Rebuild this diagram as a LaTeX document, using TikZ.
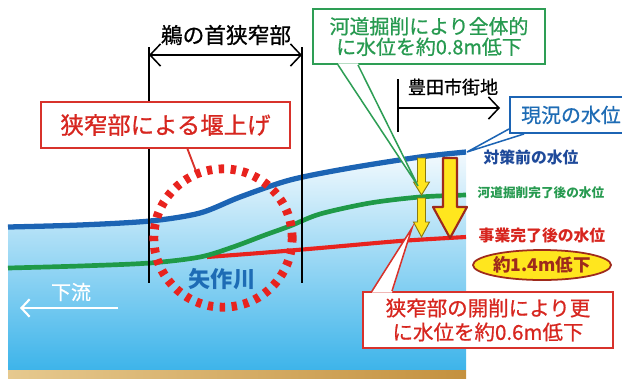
\documentclass[tikz,border=0pt]{standalone}
\usepackage{fontspec}
\setmainfont{Noto Sans CJK JP}
\newfontfamily\medium{Noto Sans CJK JP}[FakeBold=0.8]
\usetikzlibrary{arrows.meta,shapes.geometric}

\definecolor{levelblue}{HTML}{1C64B4}
\definecolor{levelgreen}{HTML}{1F9A48}
\definecolor{levelred}{HTML}{E8231E}
\definecolor{framered}{HTML}{D8322B}
\definecolor{textred}{HTML}{D7261F}
\definecolor{framegreen}{HTML}{2E9E55}
\definecolor{textgreen}{HTML}{279A50}
\definecolor{labelblue}{HTML}{1E6CB5}
\definecolor{darkblue}{HTML}{1F4A9A}
\definecolor{waterpale}{HTML}{F4FAFE}
\definecolor{watermid}{HTML}{D8EFFA}
\definecolor{waterdeep}{HTML}{3DB4EA}
\definecolor{sandlight}{HTML}{E6C98F}
\definecolor{sanddark}{HTML}{C4913F}
\definecolor{arrowyellow}{HTML}{FFE61E}
\definecolor{arrowedge}{HTML}{8A7A10}
\definecolor{bigedge}{HTML}{9E2A1C}

\tikzset{
  callout/.style={draw, line width=1.6pt, fill=white, inner sep=0pt, align=center},
  dimline/.style={line width=1.3pt},
  barb/.tip={Straight Barb[length=9pt,width=19pt,line width=1.3pt]},
  level/.style={line width=4pt},
  sidelabel/.style={font=\bfseries\fontsize{13.5}{14}\selectfont},
}

\begin{document}
\begin{tikzpicture}[x=0.03cm, y=-0.03cm]
    \useasboundingbox (0,0) rectangle (622,378);
    \clip (0,0) rectangle (622,378);
    % water and river bed
    \shade[top color=waterpale, middle color=watermid, bottom color=waterdeep]
        plot[smooth] coordinates {(8,227) (80,225) (150,221) (200,213) (240,197) (290,180) (350,168) (420,157) (466,152)}
        -- (466,370) -- (8,370) -- cycle;
    \shade[left color=sandlight, right color=sanddark] (8,370) rectangle (466,378);
    % water levels
    \draw[level, levelred, line width=3.5pt] plot[smooth] coordinates {(207,257) (260,253) (320,248) (400,241) (466,237)};
    \draw[level, levelgreen] plot[smooth] coordinates {(8,268) (80,266) (150,263) (200,257) (233,247) (265,235) (290,226) (320,214) (370,203) (420,197) (466,195)};
    \draw[level, levelblue, line width=4.5pt] plot[smooth] coordinates {(8,227) (80,225) (150,221) (200,213) (240,197) (290,180) (350,168) (420,157) (466,152)};

    % bottleneck section
    \node[font=\medium\fontsize{18.5}{19}\selectfont] (neck) at (226,35) {鵜の首狭窄部};
    \coordinate (neckL) at (149,47);
    \coordinate (neckLb) at (149,283);
    \coordinate (neckR) at (302,47);
    \coordinate (neckRb) at (302,283);
    \coordinate (neckA) at (149,55);
    \coordinate (neckB) at (302,55);
    \draw[line width=1.2pt] (neckL) -- (neckLb);
    \draw[line width=1.2pt] (neckR) -- (neckRb);
    \draw[dimline, barb-barb] (neckA) -- (neckB);

    \node[draw=levelred, circle, line width=7.5pt, dash pattern=on 4.6pt off 5.6pt,
          minimum size=4.15cm, inner sep=0pt] (bottle) at (223,238) {};
    \node[text=labelblue, font=\bfseries\fontsize{19}{19}\selectfont] (river) at (222,279) {矢作川};

    \node[callout, draw=framered, text=textred, minimum width=7.47cm, minimum height=1.38cm,
          font=\medium\fontsize{20}{20}\selectfont] (weir) at (165.5,125) {狭窄部による堰上げ};
    \draw[framered, line width=1.6pt] ([xshift=0.66cm]weir.south) -- (bottle.112);

    % downstream
    \node[text=white, font=\medium\fontsize{17}{17}\selectfont] (down) at (71,292) {下流};
    \coordinate (downA) at (118,308);
    \coordinate (downB) at (20,308);
    \draw[white, line width=1.8pt, -{Straight Barb[length=7pt,width=15pt,line width=1.8pt]}] (downA) -- (downB);

    % city section
    \node[font=\medium\fontsize{15.4}{16}\selectfont] (city) at (453,87) {豊田市街地};
    \coordinate (cityT) at (398,79);
    \coordinate (cityTb) at (398,132);
    \coordinate (cityA) at (398,108);
    \coordinate (cityB) at (500,108);
    \draw[line width=1.2pt] (cityT) -- (cityTb);
    \draw[dimline, -barb] (cityA) -- (cityB);

    % drop arrows
    \filldraw[fill=arrowyellow, draw=arrowedge, line width=0.8pt]
        (417.5,158) -- (425.5,158) -- (425.5,182) -- (429.5,182) -- (421.5,195) -- (413.5,182) -- (417.5,182) -- cycle;
    \filldraw[fill=arrowyellow, draw=arrowedge, line width=0.8pt]
        (417.5,198) -- (425.5,198) -- (425.5,222) -- (429.5,222) -- (421.5,237) -- (413.5,222) -- (417.5,222) -- cycle;
    \filldraw[fill=arrowyellow, draw=bigedge, line width=1.8pt, line join=round]
        (443,158) -- (457,158) -- (457,207) -- (467,207) -- (450,238) -- (433,207) -- (443,207) -- cycle;

    % callout: river works
    \node[callout, draw=framegreen, text=textgreen, minimum width=6.96cm, minimum height=1.65cm,
          font=\medium\fontsize{17}{17.5}\selectfont] (cut) at (429,36.5) {河道掘削により全体的\\に水位を約0.8m低下};
    \coordinate (cuttip) at (418,186);
    \fill[white] ([xshift=-2.73cm,yshift=1.3pt]cut.south) -- (cuttip) -- ([xshift=-2.13cm,yshift=1.3pt]cut.south) -- cycle;
    \draw[framegreen, line width=1.3pt] ([xshift=-2.73cm]cut.south) -- (cuttip) -- ([xshift=-2.13cm]cut.south);

    % callout: opening the bottleneck
    \node[callout, draw=framered, text=textred, minimum width=7.5cm, minimum height=1.68cm,
          font=\medium\fontsize{17.5}{20.5}\selectfont] (open) at (488,320) {狭窄部の開削により更\\に水位を約0.6m低下};
    \coordinate (opentip) at (412,228);
    \fill[white] ([xshift=-3.48cm,yshift=-1.3pt]open.north) -- (opentip) -- ([xshift=-2.88cm,yshift=-1.3pt]open.north) -- cycle;
    \draw[framered, line width=1.3pt] ([xshift=-3.48cm]open.north) -- (opentip) -- ([xshift=-2.88cm]open.north);

    % callout: present level
    \node[callout, draw=levelblue, text=labelblue, minimum width=3.66cm, minimum height=1.08cm,
          font=\medium\fontsize{17}{17}\selectfont] (present) at (571,115) {現況の水位};
    \coordinate (presenttip) at (467,152);
    \fill[white] (presenttip) -- (508.8,128) -- (508.8,134.3) -- (525,134.3) -- cycle;
    \draw[levelblue, line width=1.3pt] ([yshift=0.15cm]present.south west) -- (presenttip) -- ([xshift=0.45cm]present.south west);

    % level labels
    \node[sidelabel, text=darkblue] (before) at (531,157) {対策前の水位};
    \node[sidelabel, text=textgreen, font=\bfseries\fontsize{10.8}{11}\selectfont] (aftercut) at (541,193) {河道掘削完了後の水位};
    \node[sidelabel, text=textred] (afterall) at (542,235) {事業完了後の水位};
    \node[ellipse, draw=bigedge, fill=arrowyellow, line width=1.5pt, minimum width=3.75cm, minimum height=0.9cm,
          inner sep=0pt, text=bigedge, font=\bfseries\fontsize{15}{15}\selectfont] (drop) at (542,265) {約1.4m低下};
\end{tikzpicture}
\end{document}
